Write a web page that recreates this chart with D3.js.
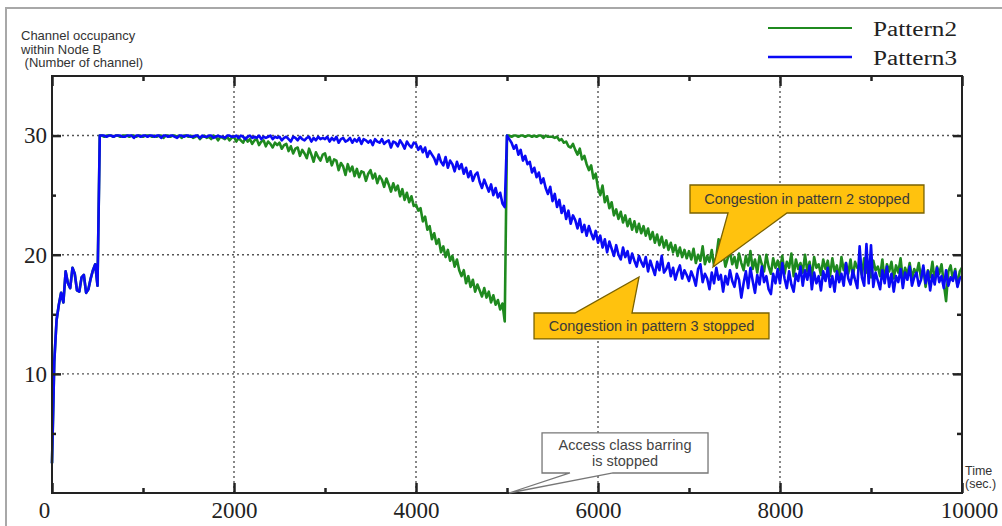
<!DOCTYPE html>
<html><head><meta charset="utf-8">
<script src="https://cdn.jsdelivr.net/npm/d3@7"></script>
<style>body{margin:0;background:#fff} svg{display:block}</style>
</head><body>
<svg id="c" width="1002" height="526"></svg>
<script>
// ---- data (channel occupancy sampled every 25 s, one row = 500 s) ----
const timeStep = 25;
const pattern2 = [
  2.5, 11.0, 14.5, 15.8, 16.8, 16.0, 18.6, 17.6, 17.2, 18.9, 18.4, 17.0, 16.9, 18.1, 18.3, 16.8, 17.1, 18.0, 18.7, 19.2,
  17.4, 30, 30, 29.9, 30, 30, 30, 29.9, 30, 30, 29.9, 30, 30, 30, 29.9, 30, 30, 29.9, 30, 30,
  29.9, 30, 30, 30, 29.9, 30, 29.9, 30, 30, 29.8, 30, 30, 29.9, 30, 30, 29.9, 30, 29.8, 30, 30,
  29.9, 30, 29.8, 29.9, 30, 29.7, 29.9, 30, 29.8, 29.9, 29.7, 30, 29.9, 29.6, 29.9, 29.8, 29.7, 29.9, 29.6, 29.8,
  29.9, 29.5, 29.8, 29.6, 29.4, 29.8, 29.5, 29.7, 29.3, 29.6, 29.7, 29.2, 29.5, 29.6, 29.1, 29.5, 29.3, 29.0, 29.4, 29.2,
  29.4, 28.9, 29.2, 29.3, 28.7, 29.1, 28.5, 28.9, 29.0, 28.3, 28.8, 28.5, 28.1, 28.9, 28.4, 27.8, 28.6, 28.2, 27.9, 28.4,
  28.5, 27.8, 28.2, 27.5, 28.0, 27.9, 27.1, 27.7, 27.4, 26.7, 27.6, 27.0, 27.4, 26.6, 27.2, 26.5, 27.0, 26.9, 26.2, 26.8,
  27.1, 26.4, 26.8, 26.0, 26.6, 26.3, 25.7, 26.4, 25.9, 25.3, 26.0, 25.4, 25.8, 24.9, 25.5, 24.6, 25.2, 24.4, 24.9, 24.1,
  24.2, 23.7, 23.9, 22.8, 23.2, 22.1, 22.4, 21.3, 21.8, 20.9, 21.3, 20.2, 20.7, 19.8, 20.4, 19.5, 19.9, 19.0, 19.6, 18.7,
  18.2, 18.7, 17.6, 18.2, 17.3, 17.9, 16.9, 17.5, 17.0, 16.5, 17.2, 16.4, 16.9, 16.0, 16.6, 15.8, 16.2, 15.4, 15.9, 14.4,
  30, 30, 29.9, 30, 30, 29.9, 30, 30, 29.9, 30, 30, 29.9, 30, 29.9, 30, 30, 29.8, 30, 29.9, 29.9,
  29.9, 29.8, 29.9, 29.6, 29.7, 29.4, 29.5, 29.1, 29.0, 29.3, 28.8, 28.4, 28.9, 28.0, 28.3, 27.6, 27.1, 27.5, 26.4, 26.8,
  25.6, 25.0, 25.8, 24.4, 24.9, 23.9, 24.4, 23.3, 23.8, 23.0, 23.6, 22.7, 23.3, 22.4, 23.0, 22.1, 22.8, 21.9, 22.6, 21.8,
  22.4, 21.6, 22.2, 21.3, 21.9, 21.0, 21.7, 20.8, 21.5, 20.6, 21.2, 20.4, 21.0, 20.2, 20.8, 19.9, 20.6, 19.8, 20.4, 19.7,
  20.3, 19.6, 20.5, 19.3, 20.0, 19.5, 20.7, 19.2, 19.9, 19.4, 20.4, 19.1, 19.8, 21.3, 19.5, 20.2, 19.0, 19.7, 20.3, 19.2,
  19.8, 18.9, 20.1, 19.3, 18.7, 19.9, 19.1, 20.3, 18.8, 19.6, 18.5, 19.9, 19.2, 18.6, 20.0, 19.0, 18.4, 19.7, 18.9, 19.5,
  18.7, 19.9, 18.4, 19.4, 18.9, 20.1, 18.2, 19.6, 18.8, 19.3, 18.5, 20.0, 18.6, 19.4, 18.1, 19.8, 18.9, 19.2, 18.3, 19.6,
  18.8, 19.5, 18.2, 19.7, 18.6, 19.1, 18.0, 19.8, 18.7, 19.3, 18.4, 19.6, 18.1, 19.4, 18.9, 19.0, 18.3, 19.7, 18.5, 19.2,
  18.1, 19.5, 18.7, 19.0, 18.2, 19.6, 17.8, 19.2, 18.6, 19.4, 18.0, 19.1, 18.5, 19.7, 17.9, 18.9, 18.3, 19.3, 18.0, 18.8,
  18.4, 19.3, 18.0, 18.9, 17.3, 18.7, 18.1, 19.4, 17.8, 19.0, 18.4, 19.2, 17.6, 16.1, 18.6, 19.1, 17.9, 18.8, 17.4, 18.6,
  18.9
];
const pattern3 = [
  2.5, 11.0, 14.5, 15.8, 16.8, 16.0, 18.6, 17.6, 17.2, 18.9, 18.4, 17.0, 16.9, 18.1, 18.3, 16.8, 17.1, 18.0, 18.7, 19.2,
  17.4, 30, 30, 30, 29.9, 30, 30, 29.9, 30, 30, 30, 29.9, 29.9, 30, 30, 30, 29.8, 30, 30, 29.9,
  30, 30, 29.9, 30, 30, 29.9, 30, 30, 29.8, 30, 30, 29.9, 30, 30, 29.9, 29.8, 30, 30, 29.9, 30,
  30, 29.9, 29.9, 30, 30, 29.8, 30, 29.9, 29.9, 30, 30, 29.8, 29.9, 30, 29.9, 29.9, 29.8, 30, 30, 29.9,
  29.9, 30, 29.8, 30, 29.9, 29.7, 29.9, 30, 29.8, 29.9, 29.8, 30, 29.7, 29.9, 29.8, 29.9, 30, 29.7, 29.9, 29.8,
  29.9, 29.6, 29.8, 29.9, 29.7, 29.5, 29.9, 29.8, 29.6, 29.9, 29.7, 29.6, 29.8, 29.9, 29.5, 29.8, 29.6, 29.9, 29.7, 29.8,
  29.7, 29.9, 29.5, 29.8, 29.6, 29.9, 29.4, 29.7, 29.8, 29.5, 29.6, 29.8, 29.4, 29.7, 29.5, 29.8, 29.3, 29.7, 29.6, 29.4,
  29.6, 29.2, 29.7, 29.5, 29.4, 29.7, 29.3, 29.5, 29.6, 29.0, 29.5, 29.4, 29.1, 29.6, 29.3, 28.9, 29.5, 29.2, 29.0, 29.4,
  29.3, 28.8, 29.1, 28.6, 29.0, 28.2, 28.7, 28.4, 28.1, 27.6, 28.4, 27.8, 27.5, 28.2, 27.3, 27.9, 27.6, 27.0, 27.8, 27.2,
  27.6, 26.8, 27.3, 26.5, 27.0, 26.2, 26.7, 26.9, 26.1, 25.6, 26.3, 25.8, 25.3, 25.9, 25.0, 25.6, 24.8, 25.2, 24.3, 24.0,
  30, 29.7, 29.4, 28.9, 29.2, 28.4, 28.8, 27.9, 28.3, 27.6, 27.8, 26.9, 27.3, 26.5, 26.9, 26.0, 26.4, 25.6, 25.1, 25.7,
  24.5, 25.1, 24.0, 24.6, 23.5, 24.1, 23.0, 23.7, 22.6, 23.3, 22.9, 22.2, 23.0, 21.9, 22.5, 21.6, 22.4, 21.8, 21.3, 22.0,
  21.0, 21.6, 20.6, 21.3, 20.2, 21.1, 20.5, 19.9, 20.8, 20.0, 19.6, 20.6, 19.8, 20.3, 19.3, 20.1, 19.5, 19.0, 19.9, 19.4,
  19.0, 19.8, 18.6, 19.5, 18.9, 18.3, 19.4, 18.7, 19.9, 18.5, 18.8, 19.3, 18.2, 18.9, 17.9, 18.6, 19.1, 18.0, 18.7, 18.3,
  17.8, 18.6, 18.1, 17.4, 18.8, 19.2, 17.7, 18.4, 18.0, 17.1, 18.5, 17.6, 18.9, 17.9, 18.3, 16.9, 18.2, 17.5, 18.7, 17.8,
  17.3, 18.4, 17.9, 16.4, 17.6, 18.6, 17.2, 18.9, 17.8, 16.8, 18.3, 17.5, 19.0, 17.7, 18.2, 17.1, 16.7, 18.4, 17.6, 18.8,
  17.6, 19.3, 18.0, 17.2, 18.6, 17.5, 16.9, 18.4, 17.8, 19.0, 17.4, 18.7, 17.9, 19.1, 17.1, 18.5, 17.6, 18.2, 17.0, 18.6,
  17.8, 18.9, 17.3, 18.2, 16.9, 18.6, 17.7, 18.4, 17.4, 19.3, 18.0, 17.5, 18.7, 17.9, 17.2, 20.7, 18.1, 17.4, 20.9, 17.6,
  20.8, 17.3, 18.5, 17.8, 17.1, 18.7, 17.6, 19.0, 17.3, 18.4, 16.9, 18.2, 17.7, 18.8, 17.2, 18.5, 17.9, 19.0, 17.4, 18.1,
  18.5, 17.4, 17.9, 19.1, 17.6, 18.6, 17.0, 18.3, 17.5, 18.9, 17.7, 18.2, 17.2, 18.7, 17.4, 18.1, 17.8, 18.6, 17.3, 18.0,
  18.2
];
const seriesNames = ["Pattern2", "Pattern3"];
const xTickValues = [0, 2000, 4000, 6000, 8000, 10000];
const xMinorTicks = [1000, 3000, 5000, 7000, 9000];
const yTickValues = [10, 20, 30];
const yMinorTicks = [5, 15, 25];
const yTitleLines = ["Channel occupancy", "within Node B", " (Number of channel)"];
const xTitleLines = ["Time", "(sec.)"];
const calloutTexts = [
  ["Congestion in pattern 2 stopped"],
  ["Congestion in pattern 3 stopped"],
  ["Access class barring", "is stopped"]
];

// ---- drawing ----
const svg = d3.select("#c");
const x = d3.scaleLinear().domain([0, 10000]).range([52, 962]);
const y = d3.scaleLinear().domain([0, 35]).range([493, 76]);
const colors = ["#1f8a1f", "#0a0af5"];
const serif = "'Liberation Serif','Times New Roman',serif";
const sans = "'Liberation Sans',Arial,sans-serif";

// outer picture frame
svg.append("path").attr("d", "M6,526 L6,8 L1002,8")
  .attr("fill", "none").attr("stroke", "#a8a8a8").attr("stroke-width", 2);

// grid
const grid = svg.append("g").attr("stroke", "#555").attr("stroke-width", 1.4)
  .attr("stroke-dasharray", "2,3");
grid.selectAll("line.v").data(xTickValues.slice(1, -1)).join("line")
  .attr("x1", d => x(d)).attr("x2", d => x(d)).attr("y1", y(35)).attr("y2", y(0));
grid.selectAll("line.h").data(yTickValues).join("line")
  .attr("x1", x(0)).attr("x2", x(10000)).attr("y1", d => y(d)).attr("y2", d => y(d));

// series
const line = d3.line().x((d, i) => x(i * timeStep)).y(d => y(d));
[pattern2, pattern3].forEach((s, k) => {
  svg.append("path").datum(s).attr("d", line)
    .attr("fill", "none").attr("stroke", colors[k]).attr("stroke-width", 2.6)
    .attr("stroke-linejoin", "round");
});

// axes
function styleAxis(g) {
  g.select(".domain").remove();
  g.selectAll(".tick line").attr("stroke", "#222").attr("stroke-width", 2.5);
  g.selectAll("text").attr("font-family", serif).attr("font-size", 23).attr("fill", "#222");
}
const bx = svg.append("g").attr("transform", `translate(0,${y(0)})`)
  .call(d3.axisBottom(x).tickValues(xTickValues).tickSize(-10).tickPadding(9).tickFormat(d3.format("d")))
  .call(styleAxis);
bx.selectAll("text").attr("dx", d => d === 0 ? -8 : (d === 10000 ? 7 : 0));
svg.append("g").attr("transform", `translate(0,${y(0)})`)
  .call(d3.axisBottom(x).tickValues(xMinorTicks).tickSize(-5).tickFormat("")).call(styleAxis);
svg.append("g").attr("transform", `translate(0,${y(35)})`)
  .call(d3.axisTop(x).tickValues(xTickValues).tickSize(-10).tickFormat("")).call(styleAxis);
svg.append("g").attr("transform", `translate(0,${y(35)})`)
  .call(d3.axisTop(x).tickValues(xMinorTicks).tickSize(-5).tickFormat("")).call(styleAxis);
svg.append("g").attr("transform", `translate(${x(0)},0)`)
  .call(d3.axisLeft(y).tickValues(yTickValues).tickSize(-9).tickPadding(5).tickFormat(d3.format("d")))
  .call(styleAxis);
svg.append("g").attr("transform", `translate(${x(0)},0)`)
  .call(d3.axisLeft(y).tickValues(yMinorTicks).tickSize(-4).tickFormat("")).call(styleAxis);
svg.append("g").attr("transform", `translate(${x(10000)},0)`)
  .call(d3.axisRight(y).tickValues(yTickValues).tickSize(-9).tickFormat("")).call(styleAxis);
svg.append("g").attr("transform", `translate(${x(10000)},0)`)
  .call(d3.axisRight(y).tickValues(yMinorTicks).tickSize(-5).tickFormat("")).call(styleAxis);

// plot frame
svg.append("rect").attr("x", x(0)).attr("y", y(35))
  .attr("width", x(10000) - x(0)).attr("height", y(0) - y(35))
  .attr("fill", "none").attr("stroke", "#222").attr("stroke-width", 2);

// y title
svg.append("text").attr("font-family", sans).attr("font-size", 13).attr("fill", "#333")
  .attr("xml:space", "preserve")
  .selectAll("tspan").data(yTitleLines).join("tspan")
  .attr("x", 21).attr("y", (d, i) => 40 + i * 13.5).text(d => d);
// x title
svg.append("text").attr("font-family", sans).attr("font-size", 12.5).attr("fill", "#333")
  .selectAll("tspan").data(xTitleLines).join("tspan")
  .attr("x", 965).attr("y", (d, i) => 475 + i * 12.5).text(d => d);

// legend
const leg = svg.append("g");
seriesNames.forEach((n, k) => {
  const ly = 28 + k * 29;
  leg.append("line").attr("x1", 768).attr("x2", 852).attr("y1", ly).attr("y2", ly)
    .attr("stroke", colors[k]).attr("stroke-width", k === 0 ? 2 : 2.5);
  leg.append("text").attr("x", 873).attr("y", ly + 8).attr("font-family", serif)
    .attr("font-size", 20).attr("fill", "#222")
    .attr("textLength", 84).attr("lengthAdjust", "spacingAndGlyphs").text(n);
});

// callouts (geometry in data units)
const calloutGeom = [
  {box: [7011, 9582, 25.85, 23.5], base: [7429, 8077], side: "bottom", tip: [7264, 18.97], fill: "#FFC20E", stroke: "#7a6200", text: "#3a3a3a"},
  {box: [5297, 7879, 15.11, 12.93], base: [5747, 6374], side: "top", tip: [6451, 18.13], fill: "#FFC20E", stroke: "#7a6200", text: "#3a3a3a"},
  {box: [5385, 7209, 5.04, 1.68], base: [5692, 6165], side: "bottom", tip: [5022, 0], fill: "#ffffff", stroke: "#777", text: "#444"}
];
calloutGeom.forEach((c, k) => {
  const x0 = x(c.box[0]), x1 = x(c.box[1]), y0 = y(c.box[2]), y1 = y(c.box[3]);
  const ba = x(c.base[0]), bb = x(c.base[1]), tx = x(c.tip[0]), ty = y(c.tip[1]);
  let d;
  if (c.side === "bottom")
    d = `M${x0},${y0}H${x1}V${y1}H${bb}L${tx},${ty}L${ba},${y1}H${x0}Z`;
  else
    d = `M${x0},${y0}H${ba}L${tx},${ty}L${bb},${y0}H${x1}V${y1}H${x0}Z`;
  svg.append("path").attr("d", d).attr("fill", c.fill).attr("stroke", c.stroke)
    .attr("stroke-width", 1.3).attr("stroke-linejoin", "miter");
  const lines = calloutTexts[k];
  const cx = (x0 + x1) / 2, cy = (y0 + y1) / 2;
  svg.append("text").attr("font-family", sans).attr("font-size", 14.5).attr("fill", c.text)
    .attr("text-anchor", "middle")
    .selectAll("tspan").data(lines).join("tspan")
    .attr("x", cx).attr("y", (d, i) => cy + 5 + (i - (lines.length - 1) / 2) * 16).text(d => d);
});
</script>
</body></html>
